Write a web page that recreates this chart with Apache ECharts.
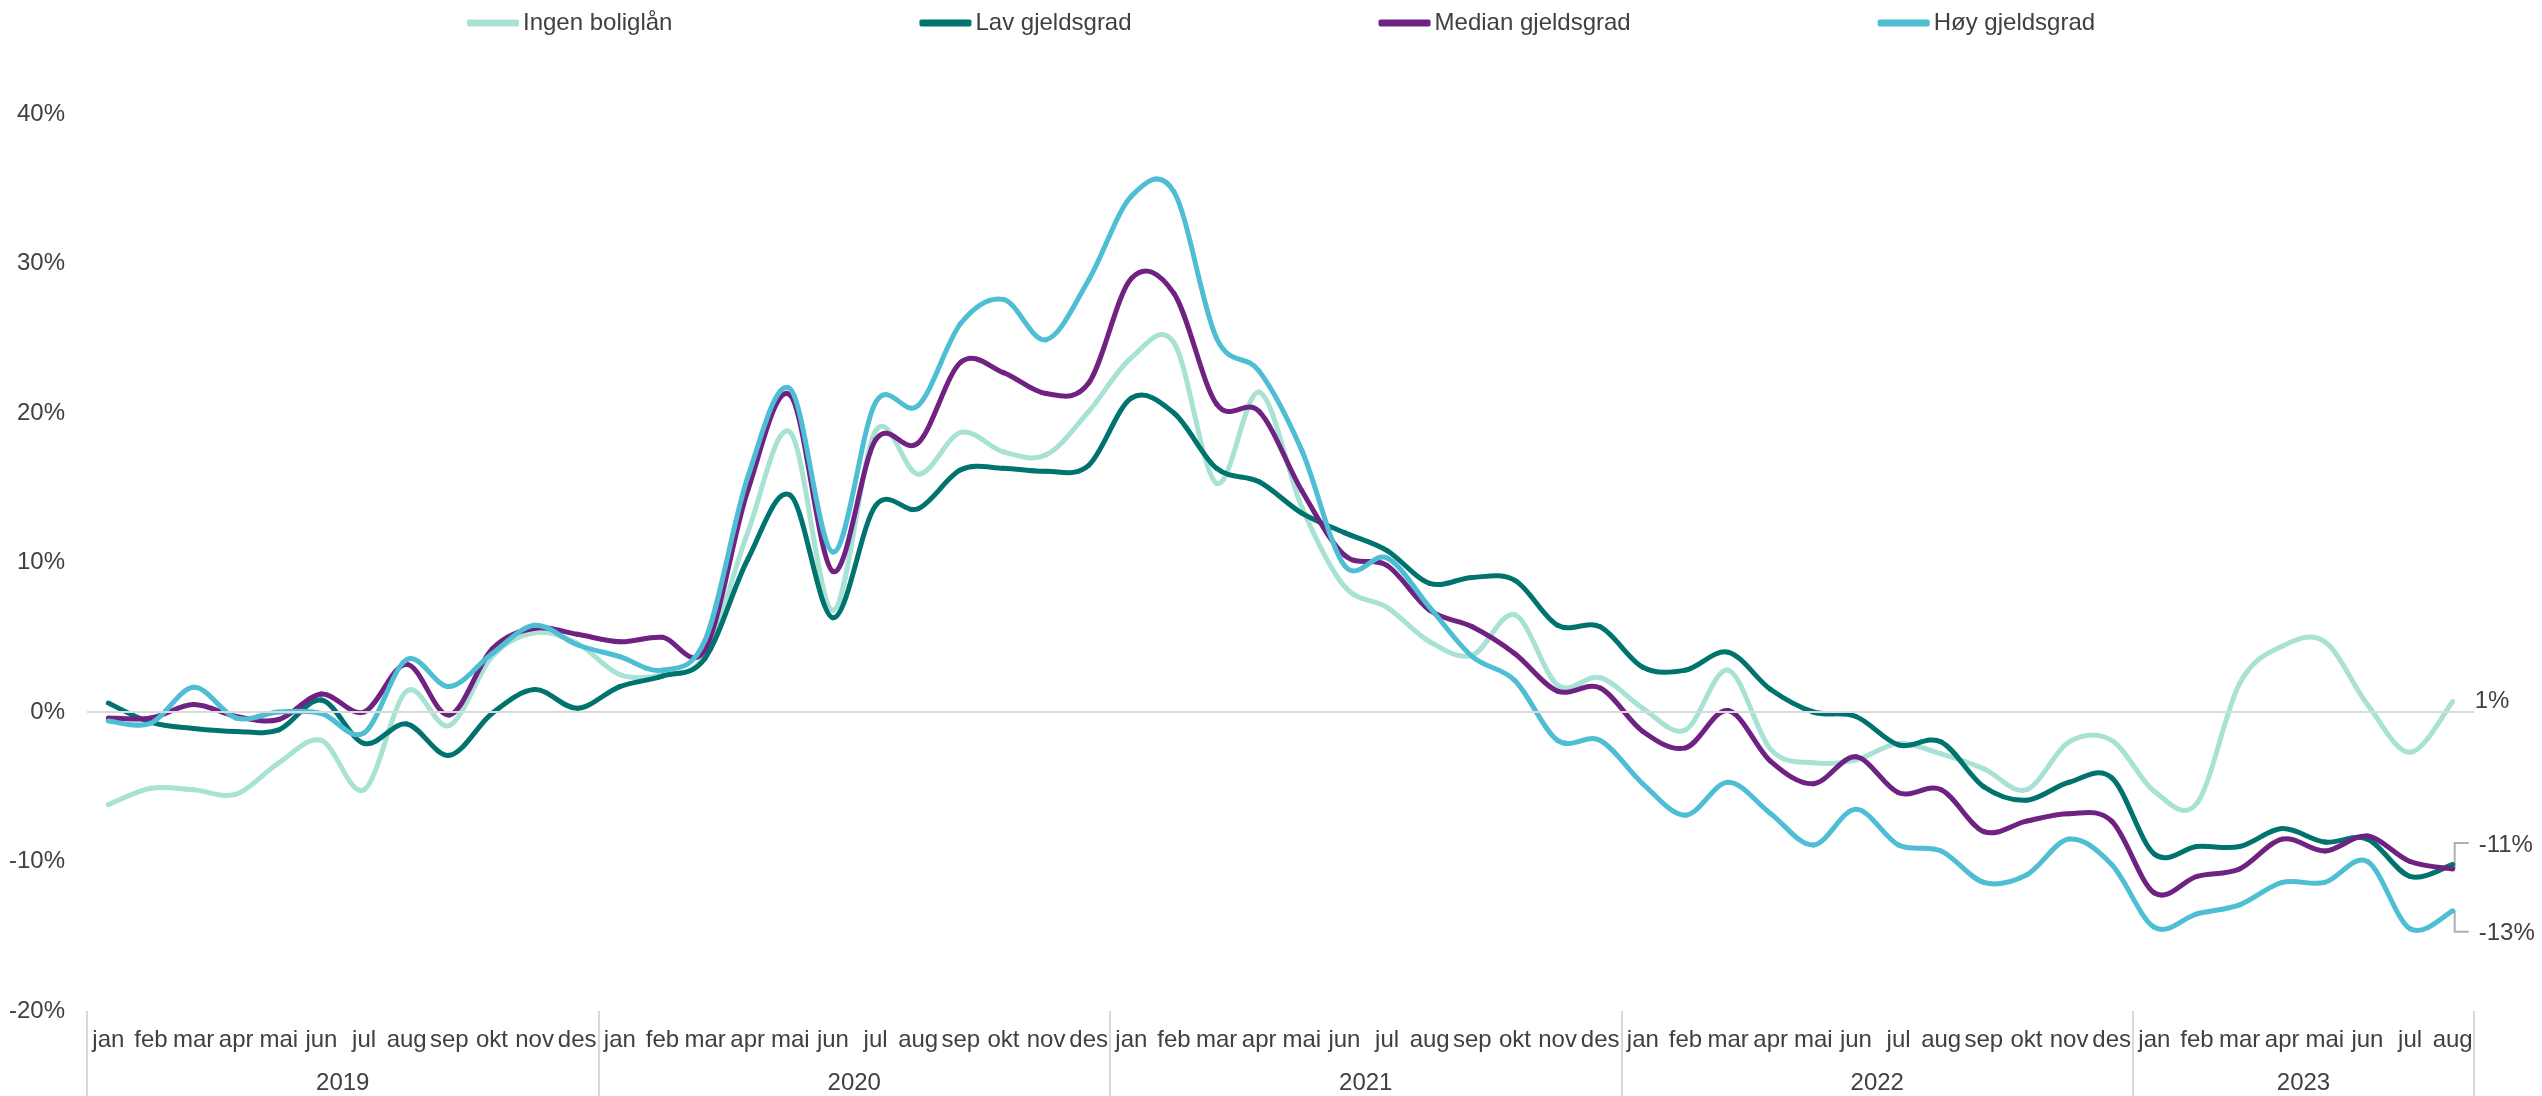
<!DOCTYPE html>
<html>
<head>
<meta charset="utf-8">
<script src="https://cdn.jsdelivr.net/npm/echarts@6/dist/echarts.min.js"></script>
<style>
  html, body { margin: 0; padding: 0; background: #fff; }
  #chart { width: 2542px; height: 1096px; }
</style>
</head>
<body>
<div id="chart"></div>
<script>
// kategorier: måneder jan 2019 - aug 2023
var monthNames = ['jan', 'feb', 'mar', 'apr', 'mai', 'jun', 'jul', 'aug', 'sep', 'okt', 'nov', 'des']
var years = ['2019', '2020', '2021', '2022', '2023']
var months = []
years.forEach(function (y, k) {
  var n = (k === years.length - 1) ? 8 : 12
  for (var m = 0; m < n; m++) months.push(monthNames[m])
})

// verdier (prosent), lest av figuren
var ingenBoliglan = [
  -6.2, -5.1, -5.2, -5.5, -3.4, -1.9, -5.2, 1.4, -0.9, 3.7, 5.3, 4.6,
  2.5, 2.5, 3.8, 12.0, 18.7, 6.8, 18.8, 15.9, 18.7, 17.4, 17.2, 20.1,
  23.7, 24.7, 15.3, 21.4, 13.7, 8.4, 7.0, 4.7, 3.8, 6.5, 1.8, 2.3,
  0.25, -1.2, 2.8, -2.5, -3.4, -3.2, -2.1, -2.8, -3.8, -5.2, -2.0, -1.9,
  -5.3, -6.1, 1.9, 4.4, 4.7, 0.5, -2.7, 0.7
]
var lavGjeldsgrad = [
  0.6, -0.7, -1.1, -1.3, -1.2, 0.8, -2.1, -0.8, -2.9, -0.1, 1.5, 0.25,
  1.7, 2.4, 3.6, 10.2, 14.5, 6.3, 13.8, 13.6, 16.2, 16.3, 16.1, 16.5,
  21.0, 20.0, 16.3, 15.4, 13.3, 12.0, 10.8, 8.6, 9.0, 8.8, 5.8, 5.7,
  3.0, 2.8, 4.0, 1.5, 0.0, -0.3, -2.2, -2.0, -5.0, -5.9, -4.7, -4.4,
  -9.5, -9.0, -9.0, -7.8, -8.7, -8.5, -11.0, -10.2
]
var medianGjeldsgrad = [
  -0.4, -0.4, 0.5, -0.3, -0.5, 1.2, 0.0, 3.2, -0.2, 4.2, 5.6, 5.2,
  4.7, 5.0, 4.2, 14.8, 21.2, 9.4, 18.2, 18.0, 23.4, 22.7, 21.3, 22.0,
  29.0, 28.0, 20.6, 20.1, 14.8, 10.5, 9.8, 6.8, 5.7, 3.9, 1.4, 1.6,
  -1.3, -2.4, 0.1, -3.3, -4.8, -3.0, -5.4, -5.2, -8.0, -7.3, -6.8, -7.3,
  -12.1, -11.0, -10.5, -8.5, -9.3, -8.3, -10.0, -10.5
]
var hoyGjeldsgrad = [
  -0.6, -0.75, 1.65, -0.4, 0.0, -0.1, -1.4, 3.5, 1.7, 3.9, 5.8, 4.5,
  3.7, 2.8, 4.8, 15.7, 21.6, 10.7, 20.7, 20.5, 26.0, 27.6, 24.9, 28.9,
  34.5, 34.8, 25.0, 22.8, 17.5, 9.8, 10.3, 7.0, 3.7, 2.1, -1.9, -1.9,
  -4.8, -6.9, -4.7, -6.8, -8.9, -6.5, -8.9, -9.3, -11.4, -10.9, -8.5, -10.2,
  -14.4, -13.5, -12.9, -11.4, -11.4, -10.0, -14.5, -13.3
]
var yTicks = [-20, -10, 0, 10, 20, 30, 40]

// sluttetiketter
var endLabels = ['1%', '-11%', '-13%']

// årsgrenser og midtpunkt regnes ut fra kategoriene
var yearBounds = []
months.forEach(function (m, i) { if (m === 'jan') yearBounds.push(i) })
yearBounds.push(months.length)
var yearMids = []
for (var k = 0; k < years.length; k++) yearMids.push((yearBounds[k] + yearBounds[k + 1]) / 2)

var textColor = '#404040'
var font = 'Liberation Sans, Arial, sans-serif'
var colors = ['#a8e2d4', '#00736f', '#702283', '#4dbed3']
var names = ['Ingen boliglån', 'Lav gjeldsgrad', 'Median gjeldsgrad', 'Høy gjeldsgrad']
var seriesData = [ingenBoliglan, lavGjeldsgrad, medianGjeldsgrad, hoyGjeldsgrad]

// glatt kurve som i Excel (Catmull-Rom), ett segment per datapunkt
function smoothRenderer(color) {
  return function (params, api) {
    var i = params.dataIndexInside
    var n = params.dataInsideLength
    if (i >= n - 1) return null
    var p = function (j) {
      j = Math.max(0, Math.min(n - 1, j))
      return api.coord([api.value(0, j), api.value(1, j)])
    }
    var p0 = p(i - 1), p1 = p(i), p2 = p(i + 1), p3 = p(i + 2)
    var t = 1 / 6
    return {
      type: 'bezierCurve',
      shape: {
        x1: p1[0], y1: p1[1], x2: p2[0], y2: p2[1],
        cpx1: p1[0] + (p2[0] - p0[0]) * t, cpy1: p1[1] + (p2[1] - p0[1]) * t,
        cpx2: p2[0] - (p3[0] - p1[0]) * t, cpy2: p2[1] - (p3[1] - p1[1]) * t
      },
      style: { stroke: color, lineWidth: 5, fill: null, lineCap: 'round' },
      silent: true
    }
  }
}

var myChart = echarts.init(document.getElementById('chart'))

var series = [{
  // nullinje
  type: 'line',
  data: [],
  silent: true,
  z: 1,
  markLine: {
    silent: true,
    symbol: 'none',
    label: { show: false },
    lineStyle: { color: '#d9d9d9', width: 2, type: 'solid' },
    data: [{ yAxis: 0 }]
  }
}]
seriesData.forEach(function (d, k) {
  series.push({
    name: names[k],
    type: 'custom',
    xAxisIndex: 0,
    yAxisIndex: 0,
    renderItem: smoothRenderer(colors[k]),
    encode: { x: 0, y: 1 },
    itemStyle: { color: colors[k] },
    data: d.map(function (v, i) { return [i, v] })
  })
})

var option = {
  animation: false,
  textStyle: { fontFamily: font },
  legend: {
    left: 462,
    top: 6,
    icon: 'roundRect',
    itemWidth: 52,
    itemHeight: 7,
    itemGap: 247,
    textStyle: { fontSize: 24, color: textColor, fontFamily: font, padding: [0, 0, 0, -1] },
    data: names
  },
  grid: { left: 87, right: 68, top: 114, bottom: 85, containLabel: false },
  xAxis: [
    {
      type: 'category',
      data: months,
      boundaryGap: true,
      axisLine: { show: false },
      axisTick: { show: false },
      axisLabel: { interval: 0, margin: 17, fontSize: 24, color: textColor, fontFamily: font }
    },
    {
      type: 'value',
      min: 0,
      max: months.length,
      position: 'bottom',
      axisLine: { show: false },
      splitLine: { show: false },
      axisTick: {
        show: true,
        customValues: yearBounds,
        length: 85,
        lineStyle: { color: '#d9d9d9', width: 2 }
      },
      axisLabel: {
        customValues: yearMids,
        margin: 60,
        fontSize: 24,
        color: textColor,
        fontFamily: font,
        formatter: function (v) { return years[yearMids.indexOf(v)] }
      }
    }
  ],
  yAxis: {
    type: 'value',
    min: yTicks[0],
    max: yTicks[yTicks.length - 1],
    interval: 10,
    axisLine: { show: false },
    axisTick: { show: false },
    splitLine: { show: false },
    axisLabel: { formatter: '{value}%', fontSize: 24, color: textColor, margin: 22, fontFamily: font }
  },
  series: series
}
option && myChart.setOption(option)

// sluttetiketter med hjelpelinjer
var last = months.length - 1
var pIngen = myChart.convertToPixel({ xAxisIndex: 0, yAxisIndex: 0 }, [last, ingenBoliglan[last]])
var pMed = myChart.convertToPixel({ xAxisIndex: 0, yAxisIndex: 0 }, [last, medianGjeldsgrad[last]])
var pHoy = myChart.convertToPixel({ xAxisIndex: 0, yAxisIndex: 0 }, [last, hoyGjeldsgrad[last]])
var lineCol = '#b0b0b0'
var labStyle = { fill: textColor, fontSize: 24, fontFamily: font, verticalAlign: 'middle', align: 'left' }
myChart.setOption({
  graphic: [
    { type: 'text', x: pIngen[0] + 22, y: pIngen[1], style: Object.assign({ text: endLabels[0] }, labStyle) },
    {
      type: 'polyline',
      shape: { points: [[pMed[0] + 2, pMed[1]], [pMed[0] + 2, pMed[1] - 26], [pMed[0] + 16, pMed[1] - 26]] },
      style: { stroke: lineCol, lineWidth: 2, fill: null }
    },
    { type: 'text', x: pMed[0] + 26, y: pMed[1] - 24, style: Object.assign({ text: endLabels[1] }, labStyle) },
    {
      type: 'polyline',
      shape: { points: [[pHoy[0] + 2, pHoy[1]], [pHoy[0] + 2, pHoy[1] + 21], [pHoy[0] + 16, pHoy[1] + 21]] },
      style: { stroke: lineCol, lineWidth: 2, fill: null }
    },
    { type: 'text', x: pHoy[0] + 26, y: pHoy[1] + 23, style: Object.assign({ text: endLabels[2] }, labStyle) }
  ]
})
</script>
</body>
</html>
